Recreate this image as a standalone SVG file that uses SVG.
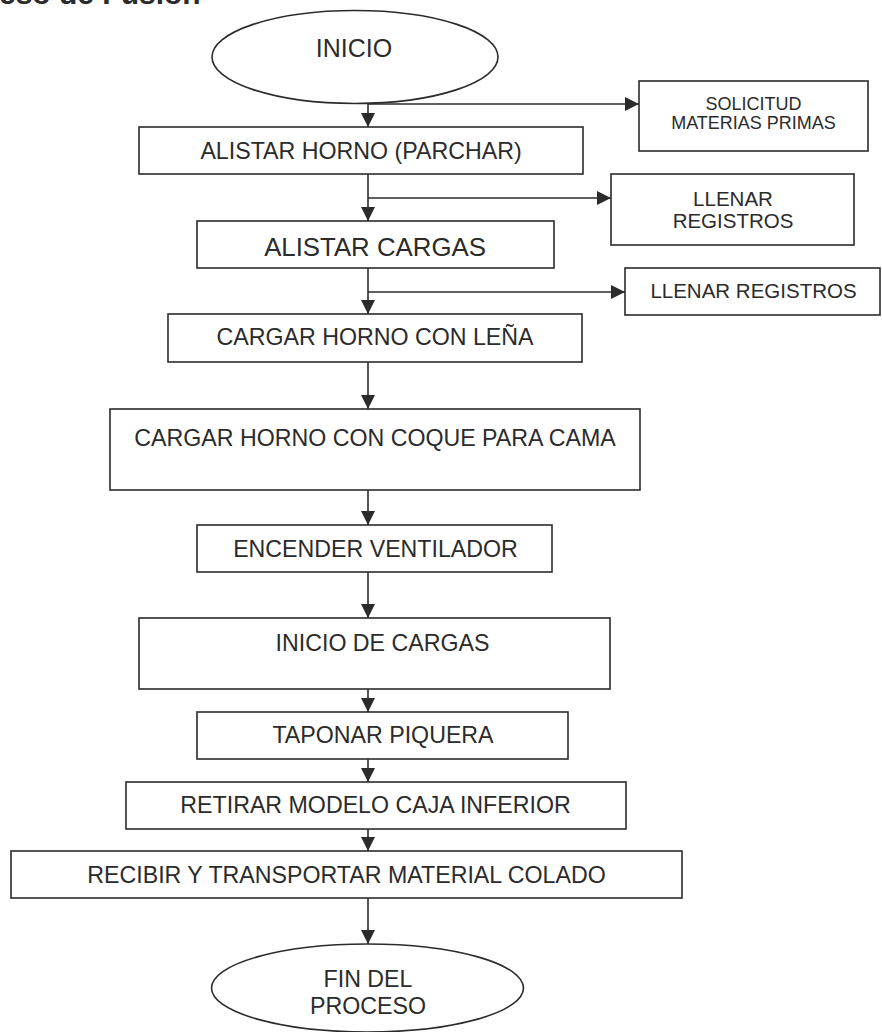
<svg xmlns="http://www.w3.org/2000/svg" width="882" height="1032" viewBox="0 0 882 1032">
<style>
.s{fill:#fff;stroke:#2b2b2b;stroke-width:1.6}
.c{fill:none;stroke:#2b2b2b;stroke-width:1.6}
text{font-family:"Liberation Sans",Arial,sans-serif;fill:#2b2b2b;text-anchor:middle}
.t{font-size:23.2px}
</style>
<defs>
<marker id="ah" markerUnits="userSpaceOnUse" markerWidth="14" markerHeight="14" refX="14" refY="7" orient="auto">
<path d="M0,0 L14,7 L0,14 z" fill="#2b2b2b"/>
</marker>
</defs>
<text x="-1" y="4" style="font-size:30px;font-weight:bold;text-anchor:start">eso de Fusión</text>
<g id="connectors">
<line class="c" x1="368" y1="103" x2="368" y2="127" marker-end="url(#ah)"/>
<line class="c" x1="368" y1="104" x2="639" y2="104" marker-end="url(#ah)"/>
<line class="c" x1="368" y1="174" x2="368" y2="221" marker-end="url(#ah)"/>
<line class="c" x1="368" y1="198" x2="611" y2="198" marker-end="url(#ah)"/>
<line class="c" x1="368" y1="268" x2="368" y2="314" marker-end="url(#ah)"/>
<line class="c" x1="368" y1="292" x2="625" y2="292" marker-end="url(#ah)"/>
<line class="c" x1="368" y1="362" x2="368" y2="409" marker-end="url(#ah)"/>
<line class="c" x1="368" y1="490" x2="368" y2="525" marker-end="url(#ah)"/>
<line class="c" x1="368" y1="572" x2="368" y2="618" marker-end="url(#ah)"/>
<line class="c" x1="368" y1="689" x2="368" y2="712" marker-end="url(#ah)"/>
<line class="c" x1="368" y1="759" x2="368" y2="782" marker-end="url(#ah)"/>
<line class="c" x1="368" y1="829" x2="368" y2="851" marker-end="url(#ah)"/>
<line class="c" x1="368" y1="898" x2="368" y2="944" marker-end="url(#ah)"/>
</g>
<g id="inicio"><ellipse class="s" cx="355" cy="57" rx="143" ry="46.5"/><text x="354" y="57" style="font-size:25px">INICIO</text></g>
<g id="alistar-horno"><rect class="s" x="139" y="127" width="444" height="47"/><text class="t" x="361" y="159">ALISTAR HORNO (PARCHAR)</text></g>
<g id="solicitud"><rect class="s" x="639" y="81" width="229" height="70"/><text x="753.5" y="110" style="font-size:18px">SOLICITUD</text><text x="753.5" y="129" style="font-size:18px">MATERIAS PRIMAS</text></g>
<g id="llenar1"><rect class="s" x="611" y="174" width="243" height="71"/><text x="733" y="206" style="font-size:20.5px">LLENAR</text><text x="733" y="228" style="font-size:20.5px">REGISTROS</text></g>
<g id="alistar-cargas"><rect class="s" x="197" y="221" width="357" height="47"/><text x="375" y="256" style="font-size:25.8px">ALISTAR CARGAS</text></g>
<g id="llenar2"><rect class="s" x="625" y="268" width="255" height="47"/><text x="753.5" y="298" style="font-size:20.5px">LLENAR REGISTROS</text></g>
<g id="lena"><rect class="s" x="168" y="314" width="414" height="48"/><text class="t" x="375" y="345">CARGAR HORNO CON LEÑA</text></g>
<g id="coque"><rect class="s" x="110" y="409" width="530" height="81"/><text class="t" x="375" y="446">CARGAR HORNO CON COQUE PARA CAMA</text></g>
<g id="ventilador"><rect class="s" x="197" y="525" width="355" height="47"/><text class="t" x="375.5" y="557">ENCENDER VENTILADOR</text></g>
<g id="inicio-cargas"><rect class="s" x="139" y="618" width="471" height="71"/><text class="t" x="382.5" y="651">INICIO DE CARGAS</text></g>
<g id="taponar"><rect class="s" x="197" y="712" width="371" height="47"/><text class="t" x="383" y="743">TAPONAR PIQUERA</text></g>
<g id="retirar"><rect class="s" x="126" y="782" width="500" height="47"/><text class="t" x="375.5" y="813">RETIRAR MODELO CAJA INFERIOR</text></g>
<g id="recibir"><rect class="s" x="11" y="851" width="671" height="47"/><text class="t" x="346.5" y="883">RECIBIR Y TRANSPORTAR MATERIAL COLADO</text></g>
<g id="fin"><ellipse class="s" cx="367.5" cy="988" rx="156" ry="44"/><text class="t" x="368" y="987">FIN DEL</text><text class="t" x="368" y="1014">PROCESO</text></g>
</svg>
